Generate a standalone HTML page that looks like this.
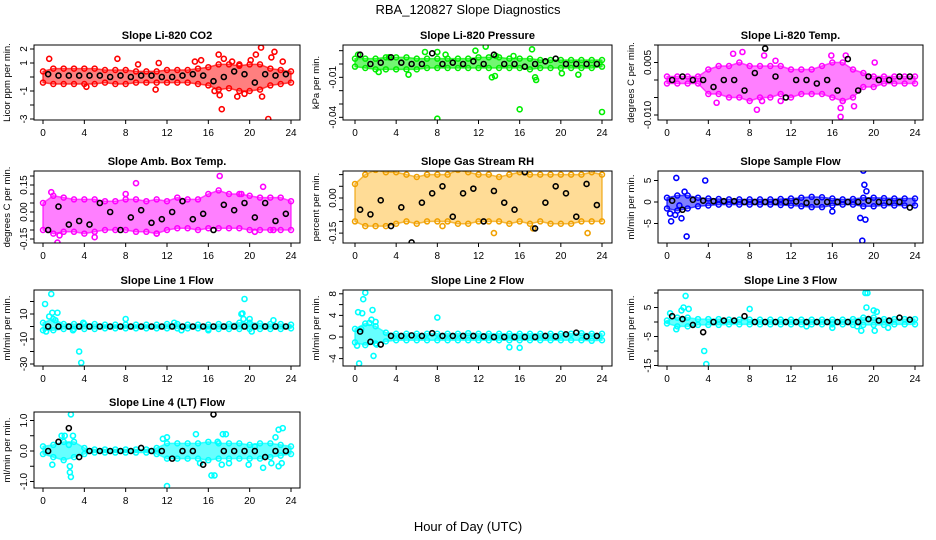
<!DOCTYPE html>
<html><head><meta charset="utf-8"><style>
body{margin:0;background:#fff}
svg{display:block;font-family:"Liberation Sans",sans-serif}
</style></head><body>
<svg id="c" width="936" height="540" viewBox="0 0 936 540">
<text x="468" y="14" text-anchor="middle" font-size="13">RBA_120827  Slope Diagnostics</text>
<text x="468" y="531" text-anchor="middle" font-size="13">Hour of Day (UTC)</text>
</svg>
<script>
const xTicks=[0,4,8,12,16,20,24];
const panelTitles=["Slope Li-820 CO2","Slope Li-820 Pressure","Slope Li-820 Temp.","Slope Amb. Box Temp.","Slope Gas Stream RH","Slope Sample Flow","Slope Line 1 Flow","Slope Line 2 Flow","Slope Line 3 Flow","Slope Line 4 (LT) Flow"];
const yTitles=["Licor ppm per min.","kPa per min.","degrees C per min.","degrees C per min.","percent per min.","ml/min per min.","ml/min per min.","ml/min per min.","ml/min per min.","ml/min per min."];
const colors=["#ff0000","#00ee00","#ff00ff","#ff00ff","#f0a000","#0000ff","#00ffff","#00ffff","#00ffff","#00ffff"];

const p1Lo=[-0.4,-0.5,-0.5,-0.5,-0.5,-0.5,-0.4,-0.5,-0.5,-0.4,-0.4,-0.4,-0.4,-0.4,-0.4,-0.5,-0.6,-0.9,-0.8,-1.0,-1.0,-0.9,-0.6,-0.5,-0.4];
const p1Hi=[0.4,0.6,0.6,0.6,0.6,0.6,0.5,0.5,0.5,0.4,0.4,0.4,0.5,0.5,0.5,0.6,0.7,0.9,0.9,0.8,0.9,0.9,0.6,0.5,0.4];
const p1OutH=[0.6,7.2,9.2,11.2,4.2,10.9,14.7,15.3,16.6,17,17.3,17.1,18.3,18.8,19.5,20.1,20.6,21.1,21.2,21.8,22.1,22.4,23.2,17.5,19];
const p1OutV=[1.3,1.3,0.9,1.0,-0.7,-0.9,1.1,1.2,-1.0,1.6,-2.3,-1.3,1.1,-1.4,-1.2,1.2,1.6,2.1,-1.4,-3.0,1.4,1.8,1.1,1.3,0.9];
const p1Blk=[0.2,0.1,0.1,0.1,0.1,0.1,0,0.1,0,0.1,0.1,0,0,0.1,0.2,0.1,-0.3,0,0.4,0.2,-0.4,0.2,0.1,0.2];

const p2Lo=[-0.002,-0.003,-0.004,-0.004,-0.004,-0.004,-0.004,-0.003,-0.003,-0.003,-0.003,-0.003,-0.003,-0.003,-0.003,-0.003,-0.003,-0.004,-0.003,-0.003,-0.003,-0.003,-0.003,-0.003,-0.002];
const p2Hi=[0.004,0.004,0.004,0.005,0.005,0.005,0.004,0.004,0.004,0.004,0.004,0.004,0.005,0.005,0.005,0.004,0.004,0.004,0.003,0.003,0.003,0.003,0.003,0.003,0.003];
const p2OutH=[0.3,2.3,3.3,5.2,6.8,8,8,8.8,11.7,12.7,13.3,13.6,16,17.2,17.5,17.6,20.1,21.7,24,13.7,15.4];
const p2OutV=[0.007,-0.006,0.005,-0.008,0.009,0.009,-0.041,0.007,0.010,0.013,-0.01,-0.009,-0.034,0.011,-0.01,-0.012,-0.007,-0.008,-0.036,0.006,0.006];
const p2Blk=[0.007,0,0.001,0.005,0.001,0,0,0.008,0,0.001,0,0.002,0,0.007,0,0,-0.002,0,0.002,0.004,0,0,0,0];

const p3Lo=[-0.001,-0.001,-0.001,-0.001,-0.004,-0.004,-0.005,-0.005,-0.006,-0.005,-0.005,-0.004,-0.005,-0.004,-0.004,-0.004,-0.005,-0.006,-0.005,-0.002,-0.002,-0.001,-0.001,-0.001,-0.001];
const p3Hi=[0.001,0.001,0.001,0.001,0.003,0.004,0.004,0.005,0.004,0.004,0.004,0.004,0.003,0.003,0.003,0.004,0.005,0.005,0.003,0.002,0.001,0.001,0.001,0.001,0.001];
const p3OutH=[6.4,7.3,9.4,10.5,4.8,8.7,9.2,11,15.9,17.3,16.8,16.8,18.1,20.1,17];
const p3OutV=[0.0075,0.008,0.007,0.0055,-0.0065,-0.0085,-0.006,-0.006,0.007,0.007,-0.0105,-0.008,-0.0075,0.005,-0.006];
const p3Blk=[0,0.001,0,0,-0.002,0,0,-0.003,0.002,0.009,0.001,-0.005,0,0,-0.001,0,-0.003,0.006,-0.003,0.001,0,0,0.001,0.001];

const p4Lo=[-0.1,-0.12,-0.11,-0.11,-0.12,-0.11,-0.1,-0.1,-0.1,-0.11,-0.11,-0.12,-0.1,-0.09,-0.09,-0.1,-0.09,-0.09,-0.09,-0.09,-0.1,-0.1,-0.1,-0.1,-0.1];
const p4Hi=[0.05,0.09,0.08,0.07,0.07,0.07,0.06,0.06,0.07,0.07,0.06,0.07,0.06,0.08,0.07,0.07,0.1,0.12,0.1,0.1,0.09,0.08,0.08,0.08,0.06];
const p4OutH=[0.8,1.4,1.6,9.0,8,5,17.1,19.2,21.3,20.5,22.3,11];
const p4OutV=[0.11,-0.17,-0.13,0.16,0.1,-0.14,0.2,0.1,0.14,-0.11,-0.10,-0.12];
const p4Blk=[-0.1,0.03,-0.07,-0.05,-0.07,0.05,0,-0.1,-0.03,0.01,-0.06,-0.04,0,0.06,-0.04,-0.01,-0.1,0.04,0.01,0.05,-0.03,0.05,-0.05,-0.01];

const p5Lo=[-0.1,-0.12,-0.12,-0.12,-0.11,-0.1,-0.11,-0.1,-0.1,-0.1,-0.11,-0.11,-0.1,-0.1,-0.1,-0.11,-0.1,-0.11,-0.1,-0.11,-0.11,-0.11,-0.1,-0.1,-0.1];
const p5Hi=[0.06,0.1,0.12,0.11,0.11,0.1,0.09,0.1,0.1,0.1,0.12,0.11,0.1,0.1,0.09,0.1,0.11,0.1,0.1,0.1,0.1,0.1,0.1,0.11,0.1];
const p5OutH=[0.9,2.6,5.5,16.7,22.6,8.5,13.5,17.3,21,23.2];
const p5OutV=[0.15,0.16,0.14,0.16,-0.15,-0.12,-0.15,-0.13,0.14,0.14];
const p5Blk=[-0.05,-0.07,-0.01,-0.12,-0.04,-0.19,-0.02,0.02,0.05,-0.08,0.02,0.04,-0.1,0.03,-0.02,-0.05,0.11,-0.13,-0.02,0.05,0.02,-0.08,0.06,-0.03];

const p6Lo=[-1.5,-2,-1.5,-1,-0.8,-0.6,-0.6,-0.6,-0.6,-0.6,-0.6,-0.7,-0.8,-1,-1.2,-1.2,-0.8,-0.6,-0.6,-1,-1,-0.8,-0.8,-0.8,-0.8];
const p6Hi=[1,1.5,1.5,1,0.8,0.7,0.6,0.6,0.6,0.6,0.6,0.7,0.8,1,1.2,1.1,0.8,0.6,0.7,1,1,0.9,0.8,0.8,0.8];
const p6OutH=[0.3,0.4,0.8,0.9,1.4,1.7,1.9,3.7,19,19.1,19.3,18.7,19.2,18.9,16,1.2];
const p6OutV=[-2.7,-4.5,-3,5.6,-3.8,2.4,-8,5,7.3,4,2.5,-3.7,-4.1,-9,-2.2,-0.8];
const p6Blk=[0.3,-1.8,0.5,0.3,0.2,0.2,0.2,0,0,0,0,0,0.1,-0.2,0,0,0,0,0,0.3,0,0,0,-1.3];

const p7Lo=[-3,-3,-2,-2,-2,-2,-1.5,-1.5,-1.5,-1.5,-1.5,-1.5,-1.5,-1.5,-1.5,-1.5,-2,-2,-2,-2,-2,-2,-2,-2,-1.5];
const p7Hi=[3,6,2,2,2,2,1.5,1.5,1.5,1.5,1.5,1.5,2,2,1.5,1.5,1.5,2,2,3,3,2.5,2,2,1.5];
const p7OutH=[0.2,0.8,0.6,0.9,1.4,1.2,3.5,3.7,0.3,8,19.2,19.3,19.5,19.4,20,20.2,2.9,3.9,22.3,12.7,13.4,16];
const p7OutV=[18,26,8,11,11,5,-20,-29,-4,6,10,10.5,22,6,6,-4,-3,3,5,3,-3,-3];
const p7Blk=[0,0,0,0,0,0,0,0,0,0,0,0,0,0,0,0,0,0,0,0,0,0,0,0];

const p8Lo=[-1,-1.5,-1.2,-0.8,-0.6,-0.6,-0.6,-0.6,-0.6,-0.6,-0.6,-0.6,-0.6,-0.6,-0.6,-0.6,-0.6,-0.6,-0.6,-0.6,-0.6,-0.6,-0.6,-0.7,-0.6];
const p8Hi=[1.5,2.5,2,0.8,0.6,0.6,0.6,0.6,0.6,0.6,0.6,0.7,0.6,0.6,0.6,0.6,0.6,0.6,0.6,0.6,0.6,0.6,0.7,0.6,0.6];
const p8OutH=[0.2,0.3,0.6,0.7,0.8,1,1.4,1.6,1.7,1.8,0.4,2,8,15,16,2.1];
const p8OutV=[-1.6,4.6,1.5,4.4,7,8.2,2.6,3.2,5,-3.5,-4.9,2.8,3.6,-1.9,-2,-1.4];
const p8Blk=[1,-0.9,-1.4,0.2,0.2,0.3,0.2,0.7,0.2,0.2,0.2,0.2,0.1,0,0,0,0,0,0.2,0.1,0.5,0.8,0.1,0.2];

const p9Lo=[-0.5,-1.5,-1.5,-1,-1,-1,-0.8,-0.8,-0.8,-0.8,-0.8,-0.8,-0.8,-0.8,-0.8,-0.8,-0.8,-0.8,-1,-1,-1,-1,-0.8,-0.8,-0.8];
const p9Hi=[0.5,1.5,1.5,1,1,1,0.8,0.8,0.8,0.8,0.8,0.8,0.8,0.8,0.8,0.8,0.8,0.8,1,1.5,1.5,1,1,1,1];
const p9OutH=[0.3,0.9,1.4,1.6,1.8,2.1,3.6,3.8,8,18.8,19.2,19.4,19.3,20,20.3,20.1,21.4,16,13.5,18.4];
const p9OutV=[3,-2.5,4,5,9,4.5,-10,-14.5,4.5,-3,10,10,5,4,3.5,-3,-2,-2,-1.5,-1.5];
const p9Blk=[2,1,-1,-3.5,0,0.5,0.5,2,0,0,0,0,0,0,0,0,0,0,0,1,0.5,0.5,1.5,0.8];

const p10Lo=[-0.1,-0.2,-0.3,-0.2,-0.1,-0.05,-0.05,-0.05,-0.05,-0.05,-0.05,-0.1,-0.25,-0.25,-0.25,-0.25,-0.3,-0.25,-0.25,-0.25,-0.25,-0.25,-0.2,-0.15,-0.1];
const p10Hi=[0.15,0.2,0.3,0.3,0.1,0.05,0.05,0.05,0.05,0.05,0.05,0.1,0.25,0.25,0.25,0.25,0.3,0.25,0.25,0.25,0.2,0.25,0.25,0.2,0.15];
const p10OutH=[0.9,1.8,2.1,2.5,2.7,2.6,2.6,2.7,2.9,11.6,12,12,14.8,15.2,16.3,16.6,16.9,17.4,17.7,17.3,18,19.9,20.5,21.3,22.1,22.5,22.8,23.2,22.8,23.1];
const p10OutV=[-0.45,0.5,0.5,0.2,1.2,-0.5,-0.7,-0.85,0.5,0.4,0.45,-1.15,0.55,-0.4,-0.8,-0.8,0.3,0.55,0.55,-0.45,-0.4,-0.45,0.15,-0.55,-0.4,0.45,0.7,0.75,-0.5,-0.4];
const p10Blk=[0,0.3,0.75,-0.2,0,0,0,0,0,0.1,0,0,-0.25,0,0,-0.45,1.2,0,0,0,0,-0.2,0,0];

const LO=[p1Lo,p2Lo,p3Lo,p4Lo,p5Lo,p6Lo,p7Lo,p8Lo,p9Lo,p10Lo];
const HI=[p1Hi,p2Hi,p3Hi,p4Hi,p5Hi,p6Hi,p7Hi,p8Hi,p9Hi,p10Hi];
const OH=[p1OutH,p2OutH,p3OutH,p4OutH,p5OutH,p6OutH,p7OutH,p8OutH,p9OutH,p10OutH];
const OV=[p1OutV,p2OutV,p3OutV,p4OutV,p5OutV,p6OutV,p7OutV,p8OutV,p9OutV,p10OutV];
const BK=[p1Blk,p2Blk,p3Blk,p4Blk,p5Blk,p6Blk,p7Blk,p8Blk,p9Blk,p10Blk];
const yTickVals=[[-3,-2,-1,0,1,2],[-0.04,-0.03,-0.02,-0.01,0,0.01],[-0.01,-0.005,0,0.005,0.01],[-0.15,-0.1,-0.05,0,0.05,0.1,0.15,0.2],[-0.15,-0.1,-0.05,0,0.05,0.1],[-5,0,5],[-30,-20,-10,0,10,20],[-4,-2,0,2,4,6,8],[-15,-10,-5,0,5,10],[-1,-0.5,0,0.5,1]];
const yTickLabels=[["-3","","-1","","1","2"],["-0.04","","","-0.01","",""],["-0.010","","","0.005",""],["-0.15","","","0.00","","","0.15",""],["-0.15","","","0.00","",""],["-5","0","5"],["-30","","-10","","10",""],["-4","","0","","4","","8"],["-15","","-5","","5",""],["-1.0","","0.0","","1.0"]];

// layout / style (pixels, not data)
const cols=[[34,300,43,291],[343,612,355,602],[658,923,667,915]];
const rows=[[45,120],[171,243],[290,366],[412,488]];
const yZero=[77,64,80,212,198,202,326.5,337,322,451];
const yScale=[14,1333,3500,180,234,4.3,1.25,5.4,2.9,30.5];
const bandFill=["#ff0000","#00ee00","#ff00ff","#ff00ff","#ffc040","#0000ff","#00ffff","#00ffff","#00ffff","#00ffff"];
const bandOpacity=[0.5,0.55,0.5,0.5,0.55,0.5,0.6,0.6,0.6,0.6];

const NS="http://www.w3.org/2000/svg";
const svg=document.getElementById('c');
function mk(tag,attrs,parent){const e=document.createElementNS(NS,tag);for(const k in attrs)e.setAttribute(k,attrs[k]);(parent||svg).appendChild(e);return e;}

for(let p=0;p<10;p++){
  const c=cols[p%3], r=rows[Math.floor(p/3)];
  const [bx0,bx1,xl,xr]=c,[by0,by1]=r;
  const X=h=>xl+h*(xr-xl)/24;
  const Y=v=>yZero[p]-v*yScale[p];
  const g=mk('g',{});
  
  
  const t=mk('text',{x:(bx0+bx1)/2,y:by0-6,'text-anchor':'middle','font-size':'11','font-weight':'bold'},g);
  t.textContent=panelTitles[p];
  
  
  const clip=mk('clipPath',{id:'cl'+p},g);
  mk('rect',{x:bx0,y:by0,width:bx1-bx0,height:by1-by0},clip);
  const plot=mk('g',{'clip-path':'url(#cl'+p+')'},g);
  let pts=[];
  for(let i=0;i<25;i++)pts.push(X(i)+','+Y(HI[p][i]));
  for(let i=24;i>=0;i--)pts.push(X(i)+','+Y(LO[p][i]));
  const band=mk('polygon',{points:pts.join(' '),fill:bandFill[p],'fill-opacity':bandOpacity[p],stroke:colors[p],'stroke-opacity':'0.7','stroke-width':'1.5','stroke-linejoin':'round'},plot);
  
  
  for(let i=0;i<25;i++){
    for(const v of [HI[p][i],LO[p][i]]){
      const e=mk('circle',{cx:X(i),cy:Y(v),r:2.5,fill:'none',stroke:colors[p],'stroke-width':1.5},plot);
      
      
    }
  }
  for(let i=0;i<OH[p].length;i++){
    const e=mk('circle',{cx:X(OH[p][i]),cy:Y(OV[p][i]),r:2.5,fill:'none',stroke:colors[p],'stroke-width':1.6},plot);
    
    
  }
  for(let i=0;i<BK[p].length;i++){
    const e=mk('circle',{cx:X(i+0.5),cy:Y(BK[p][i]),r:2.5,fill:'none',stroke:'#000','stroke-width':1.6},plot);
    
    
  }
  const box=mk('rect',{x:bx0,y:by0,width:bx1-bx0,height:by1-by0,fill:'none',stroke:'#000','stroke-width':1},g);
  
  
  for(const h of xTicks){
    mk('line',{x1:X(h),x2:X(h),y1:by1,y2:by1+4,stroke:'#000'},g);
    const l=mk('text',{x:X(h),y:by1+16,'text-anchor':'middle','font-size':'10'},g);
    l.textContent=h;
    
    
  }
  yTickVals[p].forEach((v,i)=>{
    const yy=Y(v);
    mk('line',{x1:bx0-4,x2:bx0,y1:yy,y2:yy,stroke:'#000'},g);
    if(yTickLabels[p][i]){
      const l=mk('text',{x:bx0-7,y:yy,'text-anchor':'middle','font-size':'10',transform:'rotate(-90 '+(bx0-7)+' '+yy+')'},g);
      l.textContent=yTickLabels[p][i];
      
      
    }
  });
  const yt=mk('text',{x:bx0-24,y:(by0+by1)/2,'text-anchor':'middle','font-size':'9.5',transform:'rotate(-90 '+(bx0-24)+' '+(by0+by1)/2+')'},g);
  yt.textContent=yTitles[p];
  
  
}
</script>
</body></html>
